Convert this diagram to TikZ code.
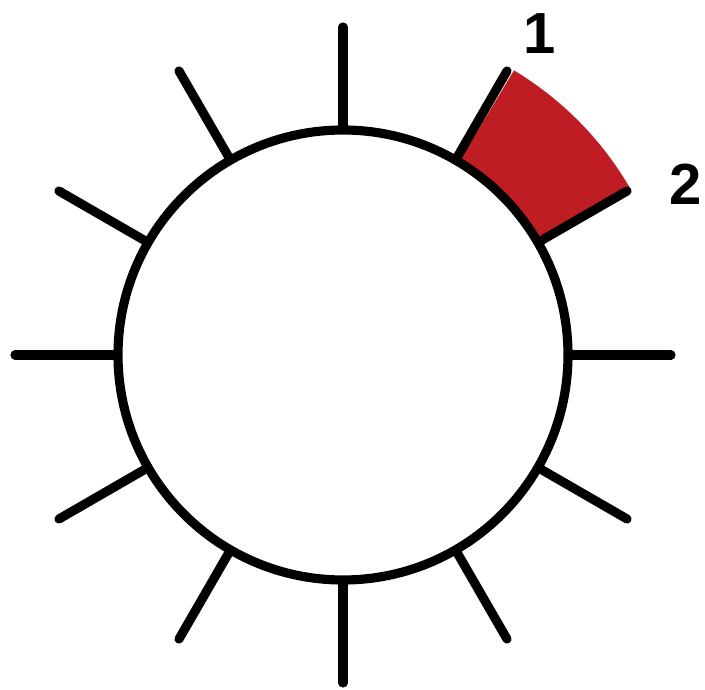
\documentclass[tikz,border=0pt]{standalone}
\usepackage{fontspec}
\setmainfont{Liberation Sans}
\definecolor{rojo}{HTML}{C01C24}

\newcommand{\rueda}[2]{%
  \foreach \a in {0,30,...,330}
    \draw[line width=5.2pt, line cap=round] (\a:#1) -- (\a:#2);
  \draw[line width=5.2pt, fill=white] (0,0) circle (#1);
  \node[font=\bfseries\fontsize{33}{38}\selectfont] (uno) at (197,321) {1};
  \node[font=\bfseries\fontsize{33}{38}\selectfont] (dos) at (343,171) {2};}

\begin{document}
\begin{tikzpicture}[x=0.02cm, y=0.02cm]
  \useasboundingbox (-343,-334) rectangle (362,355);
  \fill[rojo] (30:225) -- (30:332) arc[start angle=30, end angle=59, radius=332]
              -- (59:225) arc[start angle=59, end angle=30, radius=225] -- cycle;
  \rueda{225}{328}
\end{tikzpicture}
\end{document}
